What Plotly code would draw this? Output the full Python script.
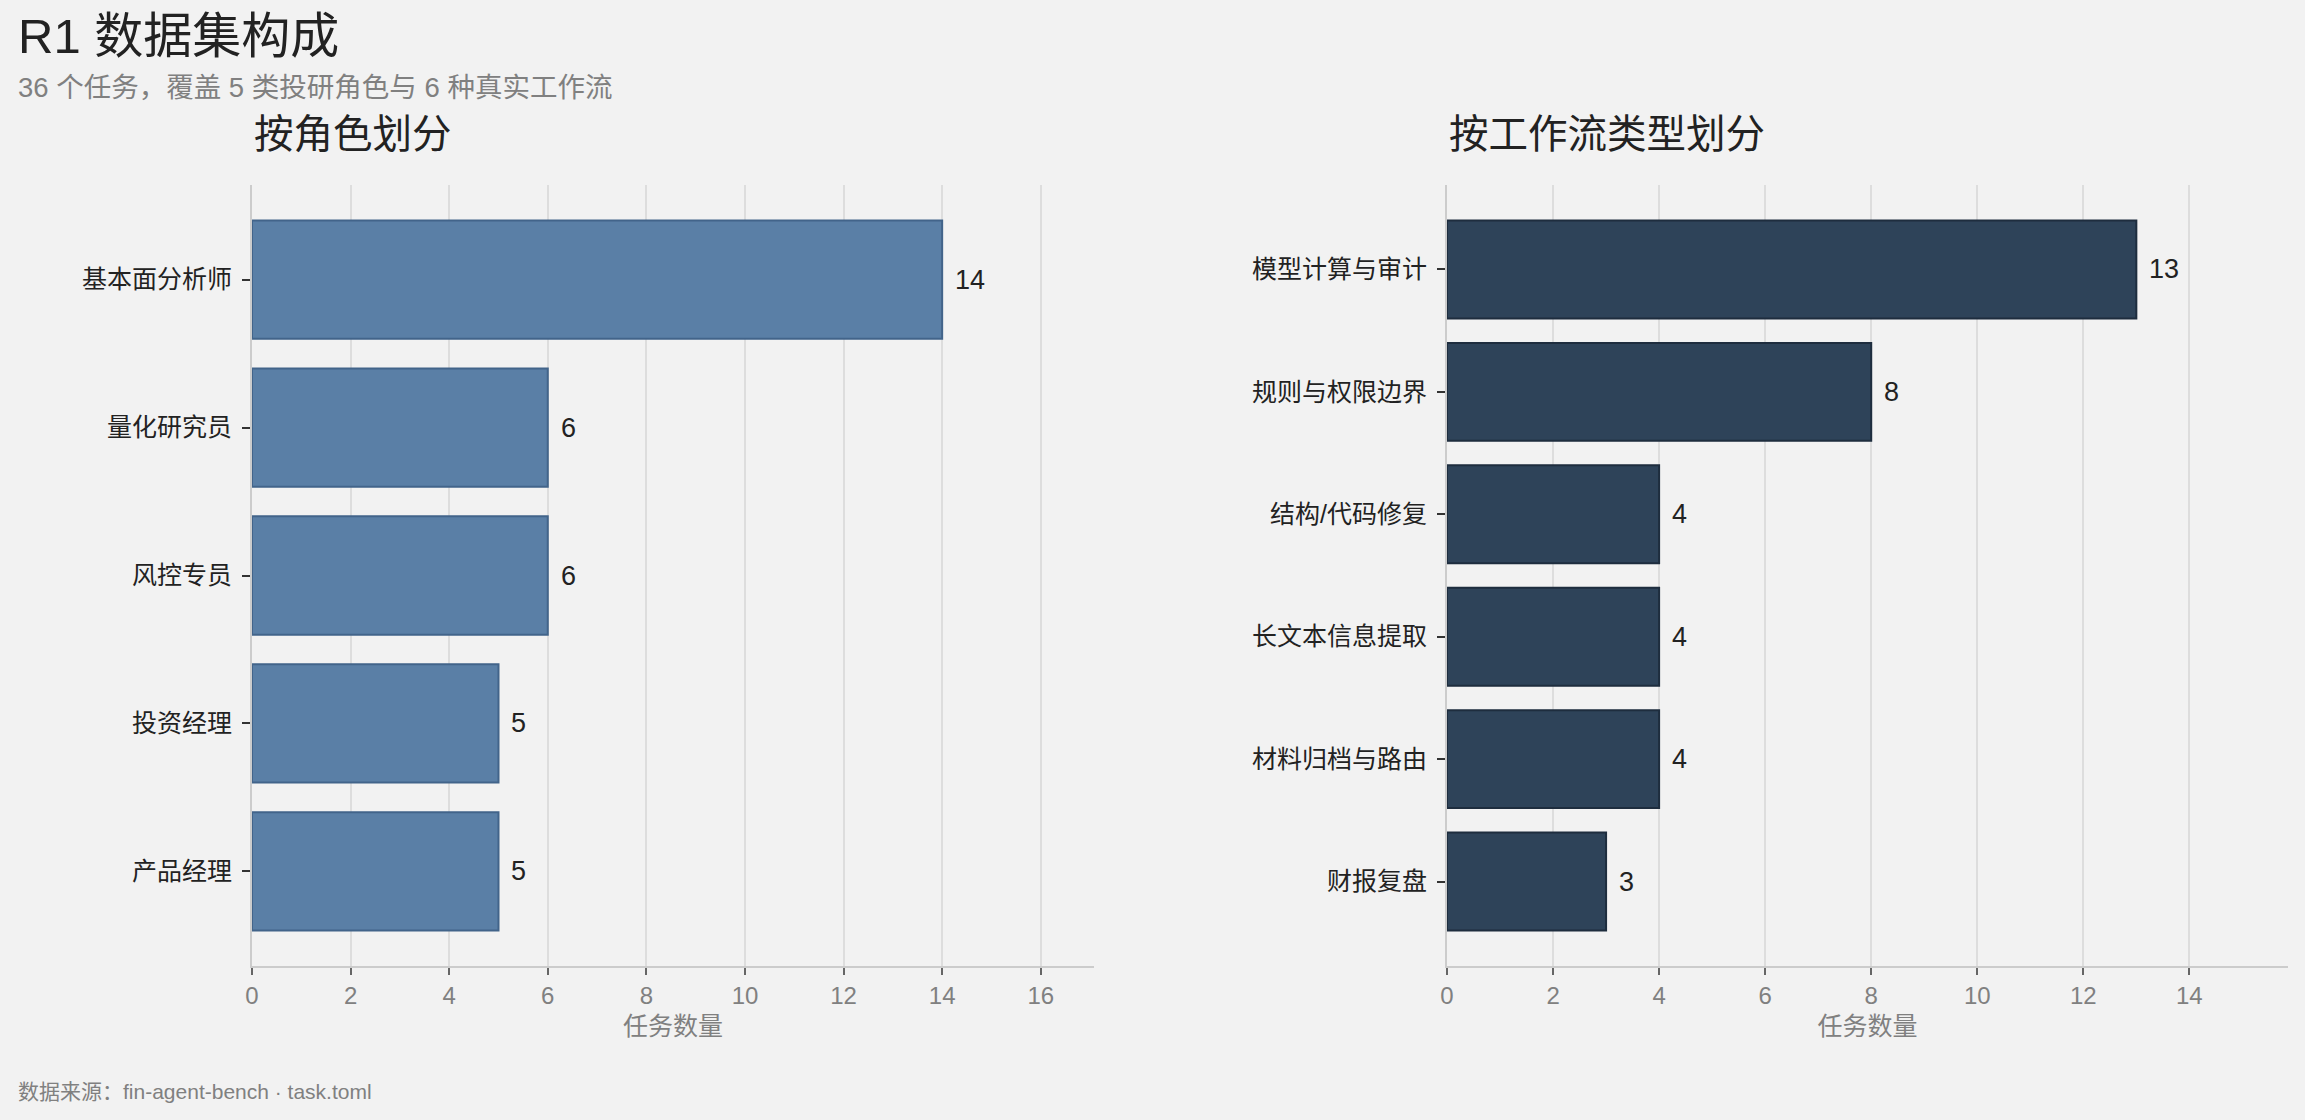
import plotly.graph_objects as go

# ---- data ----
role_names = ["基本面分析师", "量化研究员", "风控专员", "投资经理", "产品经理"]
role_counts = [14, 6, 6, 5, 5]

flow_names = ["模型计算与审计", "规则与权限边界", "结构/代码修复", "长文本信息提取", "材料归档与路由", "财报复盘"]
flow_counts = [13, 8, 4, 4, 4, 3]

title_text = "R1 数据集构成"
subtitle_text = "36 个任务，覆盖 5 类投研角色与 6 种真实工作流"
left_title = "按角色划分"
right_title = "按工作流类型划分"
x_label = "任务数量"
source_text = "数据来源：fin-agent-bench · task.toml"

W, H = 2305, 1120
FONT = "Liberation Sans, Arial, Noto Sans CJK SC, sans-serif"
BG = "#F2F2F2"

def px_x(p):
    return p / W

def px_y(p):
    return 1 - p / H

fig = go.Figure()

fig.add_trace(go.Bar(
    x=role_counts, y=role_names, orientation="h", width=0.8,
    marker=dict(color="#5A7FA6", line=dict(color="#42648A", width=2)),
    xaxis="x", yaxis="y", showlegend=False, hoverinfo="x+y",
))
fig.add_trace(go.Bar(
    x=flow_counts, y=flow_names, orientation="h", width=0.8,
    marker=dict(color="#2E4359", line=dict(color="#1E2D3E", width=2)),
    xaxis="x2", yaxis="y2", showlegend=False, hoverinfo="x+y",
))

ann = []
for n, v in zip(role_names, role_counts):
    ann.append(dict(x=v, y=n, xref="x", yref="y", text=str(v), showarrow=False,
                    xanchor="left", yanchor="middle", xshift=11,
                    font=dict(family=FONT, size=27, color="#222222")))
for n, v in zip(flow_names, flow_counts):
    ann.append(dict(x=v, y=n, xref="x2", yref="y2", text=str(v), showarrow=False,
                    xanchor="left", yanchor="middle", xshift=11,
                    font=dict(family=FONT, size=27, color="#222222")))

ann.append(dict(x=px_x(16), y=px_y(36), xref="paper", yref="paper", text=title_text,
                showarrow=False, xanchor="left", yanchor="middle",
                font=dict(family=FONT, size=49, color="#222222")))
ann.append(dict(x=px_x(16), y=px_y(87), xref="paper", yref="paper", text=subtitle_text,
                showarrow=False, xanchor="left", yanchor="middle",
                font=dict(family=FONT, size=27.5, color="#808080")))
ann.append(dict(x=px_x(252), y=px_y(134), xref="paper", yref="paper", text=left_title,
                showarrow=False, xanchor="left", yanchor="middle",
                font=dict(family=FONT, size=39.5, color="#222222")))
ann.append(dict(x=px_x(1447), y=px_y(134), xref="paper", yref="paper", text=right_title,
                showarrow=False, xanchor="left", yanchor="middle",
                font=dict(family=FONT, size=39.5, color="#222222")))
ann.append(dict(x=px_x(16), y=px_y(1091), xref="paper", yref="paper", text=source_text,
                showarrow=False, xanchor="left", yanchor="middle",
                font=dict(family=FONT, size=21, color="#808080")))

y_dom = [px_y(966), px_y(185)]

xaxis_common = dict(
    dtick=2, tick0=0, showgrid=True, gridcolor="#DDDDDD", gridwidth=1.5,
    zeroline=False, showline=True, linecolor="#CCCCCC", linewidth=2,
    ticks="outside", ticklen=7, tickwidth=1.5, tickcolor="#666666",
    tickfont=dict(family=FONT, size=24, color="#808080"),
    title=dict(text=x_label, font=dict(family=FONT, size=25, color="#808080"), standoff=10),
    fixedrange=True, automargin=False,
)
yaxis_common = dict(
    type="category", showgrid=False, zeroline=False, showline=True,
    linecolor="#CCCCCC", linewidth=2,
    ticks="outside", ticklen=8, tickwidth=1.5, tickcolor="#333333",
    tickfont=dict(family=FONT, size=25, color="#222222"),
    ticklabelstandoff=5,
    fixedrange=True, automargin=False,
)

fig.update_layout(
    width=W, height=H,
    paper_bgcolor=BG, plot_bgcolor=BG,
    margin=dict(l=0, r=0, t=0, b=0, autoexpand=False),
    bargap=0.2,
    xaxis=dict(domain=[px_x(252), px_x(1094)], range=[0, max(role_counts) * 1.22],
               anchor="y", **xaxis_common),
    yaxis=dict(domain=y_dom, anchor="x", categoryorder="array", categoryarray=role_names,
               range=[len(role_names) - 1 + 0.64, -0.64], **yaxis_common),
    xaxis2=dict(domain=[px_x(1447), px_x(2288)], range=[0, max(flow_counts) * 1.22],
                anchor="y2", **xaxis_common),
    yaxis2=dict(domain=y_dom, anchor="x2", categoryorder="array", categoryarray=flow_names,
                range=[len(flow_names) - 1 + 0.69, -0.69], **yaxis_common),
    annotations=ann,
    font=dict(family=FONT),
)

page_fix = ("document.body.style.margin='0';"
            "document.body.style.background='#F2F2F2';"
            "document.documentElement.style.overflow='hidden';")

fig.write_html("out.html", post_script=page_fix, config={"displayModeBar": False})
